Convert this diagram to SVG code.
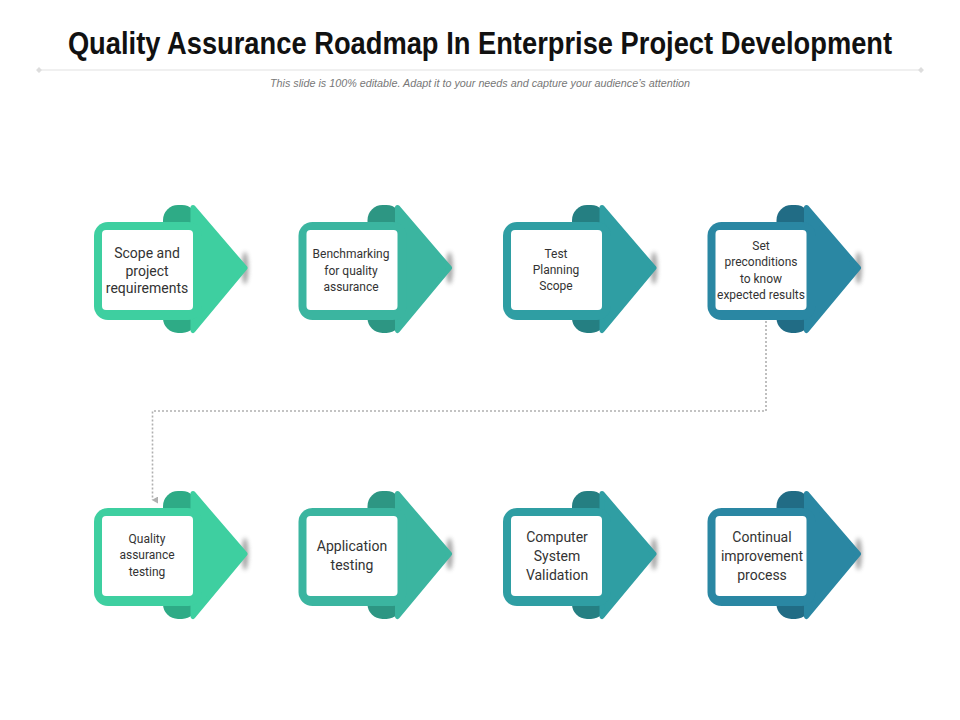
<svg xmlns="http://www.w3.org/2000/svg" width="960" height="720" viewBox="0 0 960 720">
<defs>
<filter id="blur" x="-2" y="-1" width="5" height="3"><feGaussianBlur stdDeviation="2.2"/></filter>
<marker id="ah" viewBox="0 0 10 10" refX="5" refY="8" markerWidth="7" markerHeight="7" orient="auto-start-reverse" markerUnits="userSpaceOnUse"><path d="M0,0 L10,0 L5,9 Z" fill="#b0b0b0"/></marker>
<g id="shape">
<ellipse cx="245" cy="268" rx="3.5" ry="16" fill="#8a8a8a" opacity="0.75" filter="url(#blur)"/>
<rect x="163" y="205" width="34" height="128" rx="15" style="fill:var(--dk)"/>
<polygon points="193,207.5 245,268 193,330.5" stroke-width="5" stroke-linejoin="round" style="fill:var(--lt);stroke:var(--lt)"/>
<rect x="94" y="222" width="108" height="98" rx="14" style="fill:var(--lt)"/>
<rect x="102" y="230" width="91" height="80" rx="4" fill="#ffffff"/>
</g>
</defs>
<style>
.c1{--lt:#3ecfa0;--dk:#2eab86}
.c2{--lt:#3bb5a0;--dk:#2d9683}
.c3{--lt:#2f9ea3;--dk:#257f82}
.c4{--lt:#2a87a3;--dk:#216c85}
.lbl{font-family:Roboto,"Liberation Sans",Arial,sans-serif;fill:#333333;text-anchor:middle}
.s12{font-size:12px}
.s14{font-size:14px}
</style>
<rect width="960" height="720" fill="#ffffff"/>
<g id="header">
<text transform="translate(480,54) scale(0.785,1)" x="0" y="0" font-family="'Liberation Sans',Arial,sans-serif" font-weight="bold" font-size="32" fill="#111111" text-anchor="middle" textLength="1050" lengthAdjust="spacingAndGlyphs">Quality Assurance Roadmap In Enterprise Project Development</text>
<line x1="38" y1="70" x2="922" y2="70" stroke="#e2e2e2" stroke-width="1.2"/>
<path d="M36,70 l3,-3 l3,3 l-3,3 Z M918,70 l3,-3 l3,3 l-3,3 Z" fill="#dddddd"/>
<text x="480" y="87" font-family="'Liberation Sans',Arial,sans-serif" font-style="italic" font-size="10" fill="#777777" text-anchor="middle" textLength="420" lengthAdjust="spacingAndGlyphs">This slide is 100% editable. Adapt it to your needs and capture your audience’s attention</text>
</g>
<g id="connectors">
<polyline points="766,321 766,411 152.5,411 152.5,500" fill="none" stroke="#b0b0b0" stroke-width="1.6" stroke-dasharray="2,2" marker-end="url(#ah)"/>
</g>
<g id="node1" class="c1"><use href="#shape"/>
<text class="lbl s14"><tspan x="147" y="258">Scope and</tspan><tspan x="147" y="276">project</tspan><tspan x="147" y="293">requirements</tspan></text></g>
<g id="node2" class="c2"><use href="#shape" transform="translate(204.5,0)"/>
<text class="lbl s12"><tspan x="351" y="258">Benchmarking</tspan><tspan x="351" y="275">for quality</tspan><tspan x="351" y="291">assurance</tspan></text></g>
<g id="node3" class="c3"><use href="#shape" transform="translate(409,0)"/>
<text class="lbl s12"><tspan x="556" y="258">Test</tspan><tspan x="556" y="274">Planning</tspan><tspan x="556" y="290">Scope</tspan></text></g>
<g id="node4" class="c4"><use href="#shape" transform="translate(613.5,0)"/>
<text class="lbl s12"><tspan x="761" y="250">Set</tspan><tspan x="761" y="266">preconditions</tspan><tspan x="761" y="283">to know</tspan><tspan x="761" y="299">expected results</tspan></text></g>
<g id="node5" class="c1"><use href="#shape" transform="translate(0,286)"/>
<text class="lbl s12"><tspan x="147" y="543">Quality</tspan><tspan x="147" y="559">assurance</tspan><tspan x="147" y="576">testing</tspan></text></g>
<g id="node6" class="c2"><use href="#shape" transform="translate(204.5,286)"/>
<text class="lbl s14"><tspan x="352" y="551">Application</tspan><tspan x="352" y="570">testing</tspan></text></g>
<g id="node7" class="c3"><use href="#shape" transform="translate(409,286)"/>
<text class="lbl s14"><tspan x="557" y="542">Computer</tspan><tspan x="557" y="561">System</tspan><tspan x="557" y="580">Validation</tspan></text></g>
<g id="node8" class="c4"><use href="#shape" transform="translate(613.5,286)"/>
<text class="lbl s14"><tspan x="762" y="542">Continual</tspan><tspan x="762" y="561">improvement</tspan><tspan x="762" y="580">process</tspan></text></g>
</svg>
